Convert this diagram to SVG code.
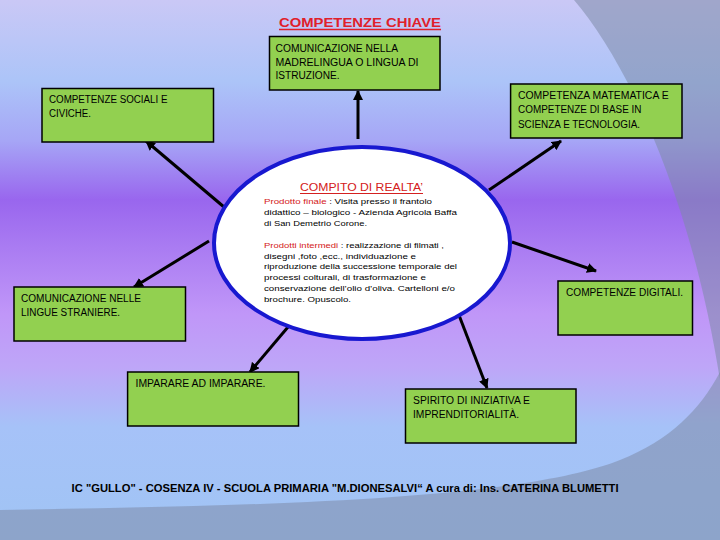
<svg xmlns="http://www.w3.org/2000/svg" width="720" height="540" viewBox="0 0 720 540">
<defs>
<linearGradient id="bg" x1="0" y1="0" x2="0" y2="1">
<stop offset="0" stop-color="#cac8f6"/>
<stop offset="0.15" stop-color="#acc4f8"/>
<stop offset="0.26" stop-color="#a6a6f6"/>
<stop offset="0.37" stop-color="#9966ee"/>
<stop offset="0.46" stop-color="#aa7cf2"/>
<stop offset="0.58" stop-color="#c096f8"/>
<stop offset="0.68" stop-color="#bea6f8"/>
<stop offset="0.79" stop-color="#a6c2f8"/>
<stop offset="1" stop-color="#a0c4f4"/>
</linearGradient>
<marker id="ah" viewBox="0 0 10 10" refX="9" refY="5" markerWidth="10" markerHeight="10" markerUnits="userSpaceOnUse" orient="auto">
<path d="M0,0 L10,5 L0,10 Z" fill="#000"/>
</marker>
<style>
.box{fill:#92d050;stroke:#000;stroke-width:1.5}
.t{font-family:"Liberation Sans",Arial,sans-serif;font-size:10px;fill:#000}
.s{font-family:"Liberation Sans",Arial,sans-serif;font-size:8px;fill:#000}
.r{fill:#d42020}
.arr{stroke:#000;stroke-width:3;fill:none;marker-end:url(#ah)}
.ov{fill:#7d8aa8;opacity:0.55}
</style>
</defs>
<rect x="0" y="0" width="720" height="540" fill="url(#bg)"/>
<path class="ov" d="M574,0 C625,60 690,190 720,380 L720,0 Z"/>
<path class="ov" d="M0,510 C260,506 520,500 620,460 C670,440 700,410 720,372 L720,540 L0,540 Z"/>

<g id="title">
<text x="279" y="27" font-family="'Liberation Sans',Arial,sans-serif" font-size="13.5" font-weight="bold" fill="#e0202a" textLength="162" lengthAdjust="spacingAndGlyphs">COMPETENZE CHIAVE</text>
<line x1="279" y1="29.5" x2="441" y2="29.5" stroke="#e0202a" stroke-width="1.3"/>
</g>

<g id="connectors">
<line class="arr" x1="358" y1="139" x2="358" y2="91"/>
<line class="arr" x1="224" y1="207" x2="146" y2="141"/>
<line class="arr" x1="489" y1="190" x2="561" y2="141"/>
<line class="arr" x1="209" y1="241" x2="134" y2="287"/>
<line class="arr" x1="512" y1="242" x2="596" y2="271"/>
<line class="arr" x1="288" y1="327" x2="250" y2="372"/>
<line class="arr" x1="457" y1="310" x2="487" y2="388"/>
</g>

<g id="center">
<ellipse cx="362" cy="243" rx="148" ry="96" fill="#fff" stroke="#1818d0" stroke-width="4"/>
<text x="300" y="191" font-family="'Liberation Sans',Arial,sans-serif" font-size="11" fill="#d42020" textLength="123" lengthAdjust="spacingAndGlyphs">COMPITO DI REALTA’</text>
<line x1="300" y1="193.5" x2="423" y2="193.5" stroke="#d42020" stroke-width="1"/>
<text class="s" x="264" y="204" textLength="168" lengthAdjust="spacingAndGlyphs"><tspan class="r">Prodotto finale</tspan> : Visita presso il frantolo</text>
<text class="s" x="264" y="215" textLength="193" lengthAdjust="spacingAndGlyphs">didattico – biologico - Azienda Agricola Baffa</text>
<text class="s" x="264" y="226" textLength="103" lengthAdjust="spacingAndGlyphs">di San Demetrio Corone.</text>
<text class="s" x="264" y="248" textLength="180" lengthAdjust="spacingAndGlyphs"><tspan class="r">Prodotti intermedi</tspan> : realizzazione di filmati ,</text>
<text class="s" x="264" y="258.5" textLength="152" lengthAdjust="spacingAndGlyphs">disegni ,foto ,ecc., individuazione e</text>
<text class="s" x="264" y="269" textLength="193" lengthAdjust="spacingAndGlyphs">riproduzione della successione temporale del</text>
<text class="s" x="264" y="280" textLength="162" lengthAdjust="spacingAndGlyphs">processi colturali, di trasformazione e</text>
<text class="s" x="264" y="291" textLength="191" lengthAdjust="spacingAndGlyphs">conservazione dell’olio d’oliva. Cartelloni e/o</text>
<text class="s" x="264" y="302" textLength="87" lengthAdjust="spacingAndGlyphs">brochure. Opuscolo.</text>
</g>

<g id="madrelingua">
<rect class="box" x="269.5" y="36.5" width="170.5" height="53.5"/>
<text class="t" x="275.5" y="51.8" textLength="122.5" lengthAdjust="spacingAndGlyphs">COMUNICAZIONE NELLA</text>
<text class="t" x="275.5" y="65.9" textLength="143" lengthAdjust="spacingAndGlyphs">MADRELINGUA O LINGUA DI</text>
<text class="t" x="275.5" y="79.4" textLength="64" lengthAdjust="spacingAndGlyphs">ISTRUZIONE.</text>
</g>

<g id="sociali">
<rect class="box" x="42" y="88.5" width="171.5" height="53.5"/>
<text class="t" x="49" y="102.8" textLength="118.5" lengthAdjust="spacingAndGlyphs">COMPETENZE SOCIALI E</text>
<text class="t" x="49" y="117.3" textLength="42" lengthAdjust="spacingAndGlyphs">CIVICHE.</text>
</g>

<g id="matematica">
<rect class="box" x="510.6" y="84" width="171.4" height="54"/>
<text class="t" x="518" y="98.6" textLength="150.6" lengthAdjust="spacingAndGlyphs">COMPETENZA MATEMATICA E</text>
<text class="t" x="518" y="112.8" textLength="123.5" lengthAdjust="spacingAndGlyphs">COMPETENZE DI BASE IN</text>
<text class="t" x="518" y="127.6" textLength="122" lengthAdjust="spacingAndGlyphs">SCIENZA E TECNOLOGIA.</text>
</g>

<g id="lingue">
<rect class="box" x="14" y="287" width="171.5" height="54"/>
<text class="t" x="21" y="301.9" textLength="120" lengthAdjust="spacingAndGlyphs">COMUNICAZIONE NELLE</text>
<text class="t" x="21" y="315.6" textLength="99" lengthAdjust="spacingAndGlyphs">LINGUE STRANIERE.</text>
</g>

<g id="digitali">
<rect class="box" x="558" y="281" width="134.5" height="54"/>
<text class="t" x="566" y="295.6" textLength="117" lengthAdjust="spacingAndGlyphs">COMPETENZE DIGITALI.</text>
</g>

<g id="imparare">
<rect class="box" x="127.6" y="372" width="170.9" height="54"/>
<text class="t" x="135.5" y="386.6" textLength="130" lengthAdjust="spacingAndGlyphs">IMPARARE AD IMPARARE.</text>
</g>

<g id="spirito">
<rect class="box" x="405.5" y="389" width="170.5" height="54"/>
<text class="t" x="413" y="403.8" textLength="117" lengthAdjust="spacingAndGlyphs">SPIRITO DI INIZIATIVA E</text>
<text class="t" x="413" y="417.6" textLength="106" lengthAdjust="spacingAndGlyphs">IMPRENDITORIALITÀ.</text>
</g>

<g id="footer">
<text x="71.6" y="492" font-family="'Liberation Sans',Arial,sans-serif" font-size="11" font-weight="bold" fill="#000" textLength="547" lengthAdjust="spacingAndGlyphs">IC "GULLO" - COSENZA IV - SCUOLA PRIMARIA "M.DIONESALVI“  A cura di: Ins. CATERINA BLUMETTI</text>
</g>
</svg>
